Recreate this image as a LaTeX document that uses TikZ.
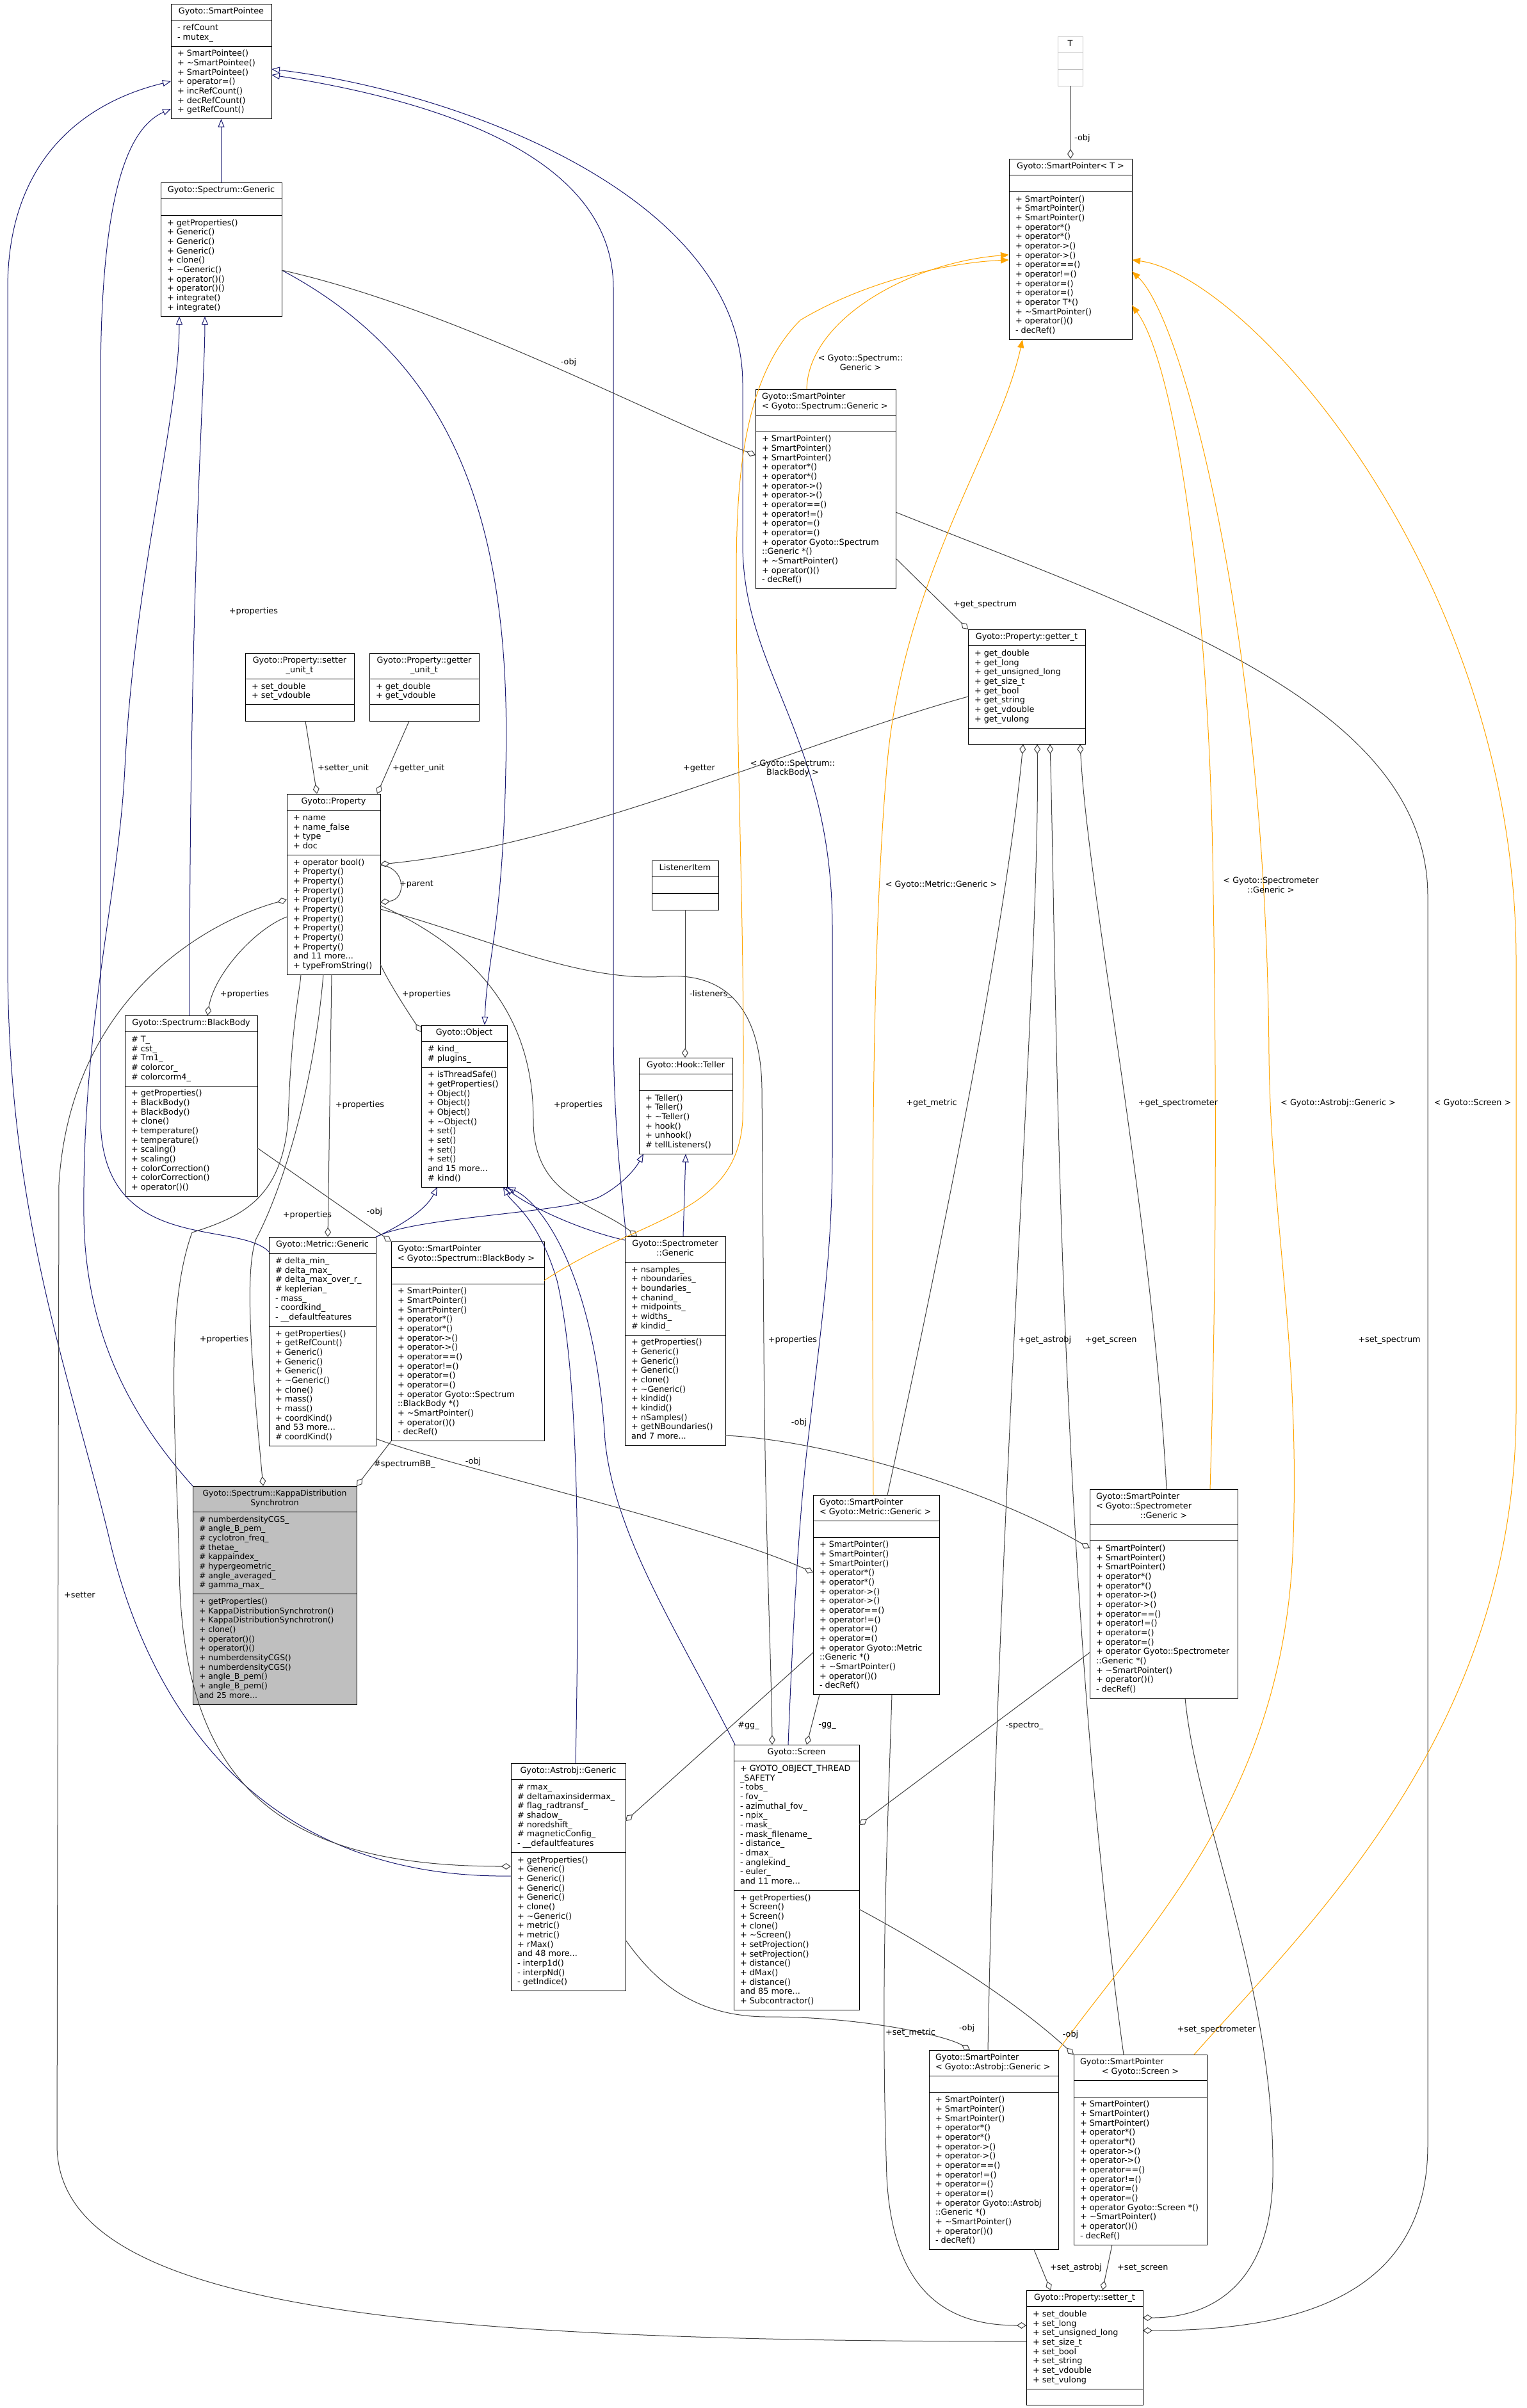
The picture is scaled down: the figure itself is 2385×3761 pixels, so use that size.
\documentclass[tikz,border=0pt]{standalone}
\usepackage{fontspec}
\setmainfont{DejaVu Sans}
\usetikzlibrary{shapes.multipart,arrows.meta}

\definecolor{edgegray}{HTML}{404040}
\definecolor{inhblue}{HTML}{191970}
\definecolor{tmplorange}{HTML}{FFA500}
\definecolor{tgray}{HTML}{BFBFBF}

\newcommand\cfont{\fontsize{12.8}{14.67}\selectfont}
\newcommand\ttl[2]{\parbox{#1}{\strut#2\strut}}
\newcommand\spops{+ SmartPointer()\\+ SmartPointer()\\+ SmartPointer()\\+ operator*()\\+ operator*()\\+ operator->()\\+ operator->()\\+ operator==()\\+ operator!=()\\+ operator=()\\+ operator=()}
\newcommand\sptail{+ \textasciitilde SmartPointer()\\+ operator()()\\- decRef()}
\hyphenpenalty=10000
\exhyphenpenalty=10000

\tikzset{
  cls/.style={rectangle split, rectangle split parts=3,
    rectangle split part align={left,left,left}, draw=black, line width=1pt,
    fill=white, anchor=north west, align=left, inner xsep=10pt, inner ysep=5pt,
    outer sep=0pt, font=\cfont, minimum width=#1pt},
  inh/.style={draw=inhblue, line width=1pt, -{Triangle[open,length=13pt,width=10pt]}},
  tmpl/.style={draw=tmplorange, line width=1pt, -{Triangle[length=13pt,width=10pt]}},
  agg/.style={draw=edgegray, line width=1pt, {Diamond[open,length=15pt,width=10pt]}-},
  lbl/.style={font=\cfont, inner sep=0pt, align=center}
}

\begin{document}
\begin{tikzpicture}[x=1pt, y=-1pt]
\path[fill=white, use as bounding box] (0,0) rectangle (2385,3761);

\node[cls=157] (spee) at (267,6) {\ttl{137pt}{\centering Gyoto::SmartPointee}\nodepart{two}\strut- refCount\\- mutex\_\strut\nodepart{three}\strut+ SmartPointee()\\+ \textasciitilde SmartPointee()\\+ SmartPointee()\\+ operator=()\\+ incRefCount()\\+ decRefCount()\\+ getRefCount()\strut};
\node[cls=189] (spg) at (251,285) {\ttl{169pt}{\centering Gyoto::Spectrum::Generic}\nodepart{two}\strut\nodepart{three}\strut+ getProperties()\\+ Generic()\\+ Generic()\\+ Generic()\\+ clone()\\+ \textasciitilde Generic()\\+ operator()()\\+ operator()()\\+ integrate()\\+ integrate()\strut};
\node[cls=39, draw=tgray] (tcls) at (1652,57) {\ttl{19pt}{\centering T}\nodepart{two}\strut\nodepart{three}\strut};
\node[cls=192] (spt) at (1576,248) {\ttl{172pt}{\centering Gyoto::SmartPointer<~T~>}\nodepart{two}\strut\nodepart{three}\strut\spops\\+ operator T*()\\\sptail\strut};
\node[cls=219] (pspg) at (1180,608) {\ttl{199pt}{Gyoto::SmartPointer\\<~Gyoto::Spectrum::Generic~>}\nodepart{two}\strut\nodepart{three}\strut\spops\\+ operator Gyoto::Spectrum\\::Generic *()\\\sptail\strut};
\node[cls=183] (gett) at (1512,983) {\ttl{163pt}{\centering Gyoto::Property::getter\_t}\nodepart{two}\strut+ get\_double\\+ get\_long\\+ get\_unsigned\_long\\+ get\_size\_t\\+ get\_bool\\+ get\_string\\+ get\_vdouble\\+ get\_vulong\strut\nodepart{three}\strut};
\node[cls=170] (setu) at (383,1020) {\ttl{150pt}{\centering Gyoto::Property::setter\\\_unit\_t}\nodepart{two}\strut+ set\_double\\+ set\_vdouble\strut\nodepart{three}\strut};
\node[cls=171] (getu) at (577,1020) {\ttl{151pt}{\centering Gyoto::Property::getter\\\_unit\_t}\nodepart{two}\strut+ get\_double\\+ get\_vdouble\strut\nodepart{three}\strut};
\node[cls=146] (prop) at (448,1240) {\ttl{126pt}{\centering Gyoto::Property}\nodepart{two}\strut+ name\\+ name\_false\\+ type\\+ doc\strut\nodepart{three}\strut+ operator bool()\\+ Property()\\+ Property()\\+ Property()\\+ Property()\\+ Property()\\+ Property()\\+ Property()\\+ Property()\\+ Property()\\and 11 more...\\+ typeFromString()\strut};
\node[cls=207] (bb) at (195,1586) {\ttl{187pt}{\centering Gyoto::Spectrum::BlackBody}\nodepart{two}\strut\# T\_\\\# cst\_\\\# Tm1\_\\\# colorcor\_\\\# colorcorm4\_\strut\nodepart{three}\strut+ getProperties()\\+ BlackBody()\\+ BlackBody()\\+ clone()\\+ temperature()\\+ temperature()\\+ scaling()\\+ scaling()\\+ colorCorrection()\\+ colorCorrection()\\+ operator()()\strut};
\node[cls=134] (obj) at (658,1601) {\ttl{114pt}{\centering Gyoto::Object}\nodepart{two}\strut\# kind\_\\\# plugins\_\strut\nodepart{three}\strut+ isThreadSafe()\\+ getProperties()\\+ Object()\\+ Object()\\+ Object()\\+ \textasciitilde Object()\\+ set()\\+ set()\\+ set()\\+ set()\\and 15 more...\\\# kind()\strut};
\node[cls=104] (litem) at (1018,1344) {\ttl{84pt}{\centering ListenerItem}\nodepart{two}\strut\nodepart{three}\strut};
\node[cls=146] (tell) at (998,1652) {\ttl{126pt}{\centering Gyoto::Hook::Teller}\nodepart{two}\strut\nodepart{three}\strut+ Teller()\\+ Teller()\\+ \textasciitilde Teller()\\+ hook()\\+ unhook()\\\# tellListeners()\strut};
\node[cls=167] (met) at (420,1932) {\ttl{147pt}{\centering Gyoto::Metric::Generic}\nodepart{two}\strut\# delta\_min\_\\\# delta\_max\_\\\# delta\_max\_over\_r\_\\\# keplerian\_\\- mass\_\\- coordkind\_\\- \_\_defaultfeatures\strut\nodepart{three}\strut+ getProperties()\\+ getRefCount()\\+ Generic()\\+ Generic()\\+ Generic()\\+ \textasciitilde Generic()\\+ clone()\\+ mass()\\+ mass()\\+ coordKind()\\and 53 more...\\\# coordKind()\strut};
\node[cls=239] (pbb) at (611,1939) {\ttl{219pt}{Gyoto::SmartPointer\\<~Gyoto::Spectrum::BlackBody~>}\nodepart{two}\strut\nodepart{three}\strut\spops\\+ operator Gyoto::Spectrum\\::BlackBody *()\\\sptail\strut};
\node[cls=157] (sptr) at (976,1931) {\ttl{137pt}{\centering Gyoto::Spectrometer\\::Generic}\nodepart{two}\strut+ nsamples\_\\+ nboundaries\_\\+ boundaries\_\\+ chanind\_\\+ midpoints\_\\+ widths\_\\\# kindid\_\strut\nodepart{three}\strut+ getProperties()\\+ Generic()\\+ Generic()\\+ Generic()\\+ clone()\\+ \textasciitilde Generic()\\+ kindid()\\+ kindid()\\+ nSamples()\\+ getNBoundaries()\\and 7 more...\strut};
\node[cls=256, fill=tgray, font=\fontsize{12.4}{14.67}\selectfont] (kappa) at (301,2321) {\ttl{236pt}{\centering Gyoto::Spectrum::KappaDistribution\\Synchrotron}\nodepart{two}\strut\# numberdensityCGS\_\\\# angle\_B\_pem\_\\\# cyclotron\_freq\_\\\# thetae\_\\\# kappaindex\_\\\# hypergeometric\_\\\# angle\_averaged\_\\\# gamma\_max\_\strut\nodepart{three}\strut+ getProperties()\\+ KappaDistributionSynchrotron()\\+ KappaDistributionSynchrotron()\\+ clone()\\+ operator()()\\+ operator()()\\+ numberdensityCGS()\\+ numberdensityCGS()\\+ angle\_B\_pem()\\+ angle\_B\_pem()\\and 25 more...\strut};
\node[cls=197] (pmet) at (1270,2335) {\ttl{177pt}{Gyoto::SmartPointer\\<~Gyoto::Metric::Generic~>}\nodepart{two}\strut\nodepart{three}\strut\spops\\+ operator Gyoto::Metric\\::Generic *()\\\sptail\strut};
\node[cls=231] (psptr) at (1702,2326) {\ttl{211pt}{Gyoto::SmartPointer\\<~Gyoto::Spectrometer\par\centering ::Generic~>}\nodepart{two}\strut\nodepart{three}\strut\spops\\+ operator Gyoto::Spectrometer\\::Generic *()\\\sptail\strut};
\node[cls=179] (ast) at (798,2754) {\ttl{159pt}{\centering Gyoto::Astrobj::Generic}\nodepart{two}\strut\# rmax\_\\\# deltamaxinsidermax\_\\\# flag\_radtransf\_\\\# shadow\_\\\# noredshift\_\\\# magneticConfig\_\\- \_\_defaultfeatures\strut\nodepart{three}\strut+ getProperties()\\+ Generic()\\+ Generic()\\+ Generic()\\+ Generic()\\+ clone()\\+ \textasciitilde Generic()\\+ metric()\\+ metric()\\+ rMax()\\and 48 more...\\- interp1d()\\- interpNd()\\- getIndice()\strut};
\node[cls=196] (scr) at (1146,2725) {\ttl{176pt}{\centering Gyoto::Screen}\nodepart{two}\strut+ GYOTO\_OBJECT\_THREAD\\\_SAFETY\\- tobs\_\\- fov\_\\- azimuthal\_fov\_\\- npix\_\\- mask\_\\- mask\_filename\_\\- distance\_\\- dmax\_\\- anglekind\_\\- euler\_\\and 11 more...\strut\nodepart{three}\strut+ getProperties()\\+ Screen()\\+ Screen()\\+ clone()\\+ \textasciitilde Screen()\\+ setProjection()\\+ setProjection()\\+ distance()\\+ dMax()\\+ distance()\\and 85 more...\\+ Subcontractor()\strut};
\node[cls=202] (past) at (1451,3202) {\ttl{182pt}{Gyoto::SmartPointer\\<~Gyoto::Astrobj::Generic~>}\nodepart{two}\strut\nodepart{three}\strut\spops\\+ operator Gyoto::Astrobj\\::Generic *()\\\sptail\strut};
\node[cls=208] (pscr) at (1677,3209) {\ttl{188pt}{Gyoto::SmartPointer\par\centering <~Gyoto::Screen~>}\nodepart{two}\strut\nodepart{three}\strut\spops\\+ operator Gyoto::Screen *()\\\sptail\strut};
\node[cls=182] (sett) at (1603,3577) {\ttl{162pt}{\centering Gyoto::Property::setter\_t}\nodepart{two}\strut+ set\_double\\+ set\_long\\+ set\_unsigned\_long\\+ set\_size\_t\\+ set\_bool\\+ set\_string\\+ set\_vdouble\\+ set\_vulong\strut\nodepart{three}\strut};

\draw[inh] (spg.north) -- (spee.south);
\draw[inh] ([xshift=101pt]bb.north west) .. controls (296,900) and (320,600) .. ([xshift=69pt]spg.south west);
\draw[inh] (kappa.north west) .. controls (220,2230) and (133,2100) .. (131,1900) .. controls (128,1600) and (185,1400) .. (195,1200) .. controls (210,900) and (280,650) .. ([xshift=29pt]spg.south west);
\draw[inh] ([yshift=-23pt]met.north west) .. controls (370,1905) and (160,1960) .. (157,1750) -- (157,600) .. controls (157,300) and (200,200) .. ([yshift=-164pt]spee.north west);
\draw[inh] ([yshift=-176pt]ast.north west) .. controls (400,2935) and (230,2660) .. (170,2400) .. controls (110,2150) and (12,1900) .. (12,1500) -- (12,450) .. controls (12,250) and (130,160) .. ([yshift=-121pt]spee.north west);
\draw[inh] ([xshift=2pt]sptr.north west) .. controls (970,1850) and (958,1750) .. (958,1600) -- (958,450) .. controls (958,250) and (700,160) .. ([yshift=-111pt]spee.north east);
\draw[inh] ([xshift=85pt]scr.north west) .. controls (1240,2500) and (1250,2350) .. (1262,2250) .. controls (1285,2050) and (1300,1950) .. (1300,1800) -- (1300,1450) .. controls (1300,1150) and (1160,1050) .. (1160,850) -- (1160,600) .. controls (1160,300) and (700,140) .. ([yshift=-102pt]spee.north east);
\draw[inh] ([yshift=-137pt]spg.north east) .. controls (700,560) and (800,800) .. (790,1200) .. controls (785,1450) and (760,1500) .. ([xshift=99pt]obj.north west);
\draw[inh] (met.north east) .. controls (625,1915) and (665,1890) .. ([xshift=25pt]obj.south west);
\draw[inh] (met.north east) .. controls (650,1900) and (880,1895) .. (935,1870) .. controls (965,1855) and (990,1830) .. ([xshift=7pt]tell.south west);
\draw[inh] ([xshift=101pt]ast.north west) .. controls (905,2450) and (905,2150) .. (870,2000) .. controls (840,1900) and (800,1880) .. ([xshift=-6pt]obj.south east);
\draw[inh] ([yshift=-6pt]sptr.north west) .. controls (900,1920) and (820,1880) .. ([xshift=-3pt]obj.south east);
\draw[inh] ([xshift=2pt]scr.north west) .. controls (1060,2550) and (960,2400) .. (945,2250) .. controls (930,2000) and (850,1880) .. (obj.south east);
\draw[inh] ([xshift=91pt]sptr.north west) -- ([xshift=73pt]tell.south west);

\draw[agg] (spt.north) -- (tcls.south);
\draw[agg] ([yshift=-103pt]pspg.north west) .. controls (1000,640) and (700,480) .. ([yshift=-137pt]spg.north east);
\draw[agg] (gett.north west) -- ([yshift=-264pt]pspg.north east);
\draw[agg] ([yshift=-63pt]sett.north east) .. controls (2000,3640) and (2230,3600) .. (2230,3350) -- (2230,1400) .. controls (2230,1100) and (1800,960) .. ([yshift=-192pt]pspg.north east);
\draw[agg] ([xshift=47pt]prop.north west) -- ([xshift=94pt]setu.south west);
\draw[agg] ([xshift=141pt]prop.north west) -- ([xshift=62pt]getu.south west);
\draw[agg] ([yshift=-110pt]prop.north east) .. controls (900,1320) and (1250,1160) .. ([yshift=-105pt]gett.north west);
\draw[agg] ([yshift=-169pt]prop.north east) .. controls (635,1405) and (635,1355) .. ([yshift=-111pt]prop.north east);
\draw[agg] ([yshift=-165pt]prop.north west) .. controls (320,1440) and (110,1560) .. (92,1850) -- (89,3350) .. controls (89,3600) and (600,3657) .. ([yshift=-80pt]sett.north west);
\draw[agg] ([xshift=129pt]bb.north west) .. controls (335,1520) and (400,1450) .. ([yshift=-192pt]prop.north west);
\draw[agg] ([yshift=-11pt]obj.north west) .. controls (630,1570) and (605,1530) .. ([yshift=-266pt]prop.north east);
\draw[agg] ([xshift=92pt]met.north west) -- ([xshift=70pt]prop.south west);
\draw[agg] ([xshift=19pt]sptr.north west) .. controls (930,1880) and (833,1870) .. (833,1750) .. controls (833,1600) and (760,1490) .. ([yshift=-174pt]prop.north east);
\draw[agg] ([xshift=110pt]kappa.north west) .. controls (395,2150) and (380,1990) .. (400,1935) .. controls (440,1860) and (490,1700) .. ([xshift=57pt]prop.south west);
\draw[agg] ([yshift=-161pt]ast.north west) .. controls (450,2915) and (285,2800) .. (280,2450) .. controls (276,2250) and (255,2050) .. (300,1925) .. controls (380,1900) and (440,1870) .. (450,1750) .. controls (455,1600) and (468,1550) .. ([xshift=22pt]prop.south west);
\draw[agg] ([xshift=60pt]scr.north west) .. controls (1205,2600) and (1195,2400) .. (1193,2100) -- (1190,1700) .. controls (1188,1560) and (1120,1520) .. (1040,1525) .. controls (900,1535) and (750,1460) .. ([yshift=-180pt]prop.north east);
\draw[agg] (kappa.north east) -- (pbb.south west);
\draw[agg] (pbb.north west) -- ([yshift=-207pt]bb.north east);
\draw[agg] ([yshift=-121pt]pmet.north west) .. controls (1100,2380) and (700,2290) .. ([yshift=-315pt]met.north east);
\draw[agg] ([yshift=-92pt]psptr.north west) .. controls (1550,2330) and (1300,2250) .. ([yshift=-311pt]sptr.north east);
\draw[agg] ([yshift=-55pt]sett.north west) .. controls (1500,3632) and (1395,3600) .. (1385,3400) .. controls (1375,3100) and (1385,2900) .. ([xshift=123pt]pmet.south west);
\draw[agg] ([xshift=86pt]gett.south west) .. controls (1570,1450) and (1480,1900) .. ([xshift=116pt]pmet.north west);
\draw[agg] ([xshift=108pt]gett.south west) .. controls (1625,1500) and (1560,2300) .. ([xshift=92pt]past.north west);
\draw[agg] ([xshift=128pt]gett.south west) .. controls (1650,1500) and (1650,2450) .. ([xshift=78pt]pscr.north west);
\draw[agg] ([xshift=175pt]gett.south west) .. controls (1700,1400) and (1800,1900) .. ([xshift=120pt]psptr.north west);
\draw[agg] ([xshift=119pt]sett.north west) -- ([xshift=60pt]pscr.south west);
\draw[agg] ([xshift=38pt]sett.north west) -- ([xshift=164pt]past.south west);
\draw[agg] ([yshift=-43pt]sett.north east) .. controls (1900,3620) and (1985,3560) .. (1988,3400) .. controls (1992,3100) and (1870,2850) .. ([xshift=149pt]psptr.south west);
\draw[agg] ([xshift=64pt]past.north west) .. controls (1480,3180) and (1350,3150) .. (1200,3150) .. controls (1080,3150) and (1020,3090) .. ([yshift=-276pt]ast.north east);
\draw[agg] (pscr.north west) .. controls (1580,3120) and (1450,3040) .. ([yshift=-257pt]scr.north east);
\draw[agg] ([yshift=-90pt]ast.north east) -- ([yshift=-246pt]pmet.north west);
\draw[agg] ([xshift=114pt]scr.north west) -- ([xshift=10pt]pmet.south west);
\draw[agg] ([yshift=-125pt]scr.north east) -- ([yshift=-255pt]psptr.north west);
\draw[agg] ([xshift=72pt]tell.north west) -- ([xshift=52pt]litem.south west);

\draw[tmpl] ([xshift=80pt]pspg.north west) .. controls (1262,500) and (1420,410) .. ([yshift=-150pt]spt.north west);
\draw[tmpl] ([yshift=-61pt]pbb.north east) .. controls (1000,1900) and (1150,1900) .. (1160,1750) .. controls (1165,1500) and (1150,1200) .. (1150,900) .. controls (1150,750) and (1160,590) .. (1250,500) .. controls (1350,440) and (1480,410) .. ([yshift=-158pt]spt.north west);
\draw[tmpl] ([xshift=94pt]pmet.north west) .. controls (1362,1900) and (1360,1500) .. (1385,1200) .. controls (1410,900) and (1560,700) .. ([xshift=21pt]spt.south west);
\draw[tmpl] ([xshift=188pt]psptr.north west) .. controls (1900,2000) and (1900,1700) .. (1895,1400) .. controls (1890,900) and (1830,560) .. ([yshift=-229pt]spt.north east);
\draw[tmpl] (past.north east) .. controls (1800,3000) and (2010,2800) .. (2020,2400) .. controls (2030,2100) and (1985,1900) .. (1982,1650) .. controls (1978,1000) and (1850,500) .. ([yshift=-176pt]spt.north east);
\draw[tmpl] ([xshift=-20pt]pscr.north east) .. controls (2050,3000) and (2368,2700) .. (2368,2200) -- (2368,1500) .. controls (2368,900) and (1950,430) .. ([yshift=-158pt]spt.north east);

\node[lbl, anchor=west] (lobjT) at (1678,216) {-obj};
\node[lbl] (lobjspec) at (888,566) {-obj};
\node[lbl, anchor=west] (lgetspec) at (1489,945) {+get\_spectrum};
\node[lbl] (lsetspec) at (2170,2093) {+set\_spectrum};
\node[lbl, anchor=west] (lsetunit) at (496,1200) {+setter\_unit};
\node[lbl, anchor=west] (lgetunit) at (613,1200) {+getter\_unit};
\node[lbl] (lgetter) at (1092,1200) {+getter};
\node[lbl, anchor=west] (lparent) at (624,1381) {+parent};
\node[lbl, anchor=west] (lsetter) at (100,2491) {+setter};
\node[lbl] (lpspec) at (396,955) {+properties};
\node[lbl] (lpbb) at (382,1553) {+properties};
\node[lbl] (lpobj) at (666,1553) {+properties};
\node[lbl] (lpmet) at (562,1726) {+properties};
\node[lbl] (lpsptr) at (903,1726) {+properties};
\node[lbl] (lpkappa) at (480,1898) {+properties};
\node[lbl] (lpast) at (350,2092) {+properties};
\node[lbl] (lpscr) at (1238,2093) {+properties};
\node[lbl, anchor=west] (lspecbb) at (584,2287) {\#spectrumBB\_};
\node[lbl] (lobjbb) at (585,1893) {-obj};
\node[lbl] (lobjmet) at (739,2283) {-obj};
\node[lbl] (lobjsptr) at (1248,2222) {-obj};
\node[lbl] (lsetmet) at (1422,3175) {+set\_metric};
\node[lbl] (lgetmet) at (1455,1723) {+get\_metric};
\node[lbl] (lgetast) at (1632,2093) {+get\_astrobj};
\node[lbl] (lgetscr) at (1735,2093) {+get\_screen};
\node[lbl] (lgetsptr) at (1840,1723) {+get\_spectrometer};
\node[lbl, anchor=west] (lsetast) at (1640,3542) {+set\_astrobj};
\node[lbl, anchor=west] (lsetscr) at (1745,3542) {+set\_screen};
\node[lbl] (lsetsptr) at (1900,3170) {+set\_spectrometer};
\node[lbl] (lobjast) at (1510,3168) {-obj};
\node[lbl] (lobjscr) at (1672,3178) {-obj};
\node[lbl] (lggast) at (1169,2695) {\#gg\_};
\node[lbl] (lggscr) at (1292,2695) {-gg\_};
\node[lbl] (lspectro) at (1600,2695) {-spectro\_};
\node[lbl, anchor=west] (llisten) at (1077,1553) {-listeners\_};
\node[lbl] (ltspec) at (1344,566) {< Gyoto::Spectrum::\\Generic >};
\node[lbl] (ltbb) at (1238,1200) {< Gyoto::Spectrum::\\BlackBody >};
\node[lbl] (ltmet) at (1470,1382) {< Gyoto::Metric::Generic >};
\node[lbl] (ltsptr) at (1985,1382) {< Gyoto::Spectrometer\\::Generic >};
\node[lbl] (ltast) at (2090,1723) {< Gyoto::Astrobj::Generic >};
\node[lbl] (ltscr) at (2300,1723) {< Gyoto::Screen >};
\end{tikzpicture}
\end{document}
